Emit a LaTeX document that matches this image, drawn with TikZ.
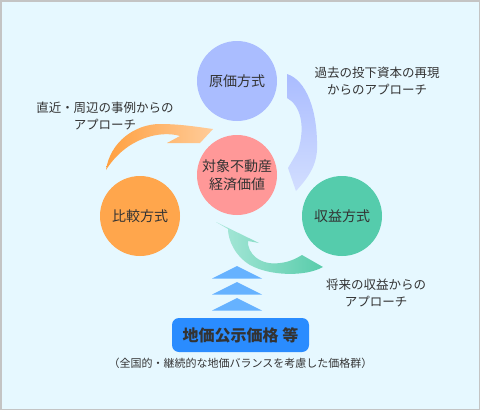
\documentclass[tikz,border=0pt]{standalone}
\usepackage{fontspec}
\setmainfont{Noto Sans CJK JP}
\usetikzlibrary{positioning}
\definecolor{bgblue}{HTML}{E6F8FF}
\definecolor{framegray}{HTML}{C4C4C4}
\definecolor{textgray}{HTML}{333333}
\definecolor{costblue}{HTML}{AABDFF}
\definecolor{valuered}{HTML}{FF9898}
\definecolor{salesorange}{HTML}{FFA64C}
\definecolor{incomegreen}{HTML}{55CCAC}
\definecolor{boxblue}{HTML}{2A8CFF}
\definecolor{chevblue}{HTML}{66B2FF}
\definecolor{orangedark}{HTML}{FFA040}
\definecolor{orangelight}{HTML}{FFCC9A}
\definecolor{arrowbluedark}{HTML}{AABCFF}
\definecolor{arrowbluelight}{HTML}{D2DEFF}
\definecolor{greenlight}{HTML}{AAE8DA}
\definecolor{greendark}{HTML}{58CCAA}

\begin{document}
\begin{tikzpicture}[x=1pt, y=-1pt,
    method/.style={circle, minimum size=80pt, inner sep=0pt, text=textgray,
      align=center, font=\fontsize{14}{18}\selectfont},
    note/.style={text=textgray, align=center, font=\fontsize{12.5}{17}\selectfont}]
    \useasboundingbox (0,0) rectangle (480,410);
    \fill[bgblue] (0,0) rectangle (480,410);
    \draw[framegray, line width=1.5pt] (0.75,0.75) rectangle (479.25,409.25);

    % sweep arrows
    \shade[left color=orangedark, right color=orangelight]
      (106,170) .. controls (110,142) and (135,124) .. (160,124)
      .. controls (180,124) and (198,127) .. (213,129)
      -- (200,143) -- (167,143) -- (180,136)
      .. controls (160,130) and (126,138) .. (106,170) -- cycle;
    \shade[top color=arrowbluedark, bottom color=arrowbluelight]
      (287,74) .. controls (306,80) and (318,110) .. (317,150)
      .. controls (316,168) and (306,180) .. (296,191)
      -- (288,168) -- (298,151)
      .. controls (306,125) and (300,105) .. (287,98) -- cycle;
    \shade[left color=greenlight, right color=greendark]
      (216,222) -- (259,243) -- (248,241)
      .. controls (247,253) and (260,266) .. (280,263)
      .. controls (290,262) and (297,258) .. (302,255)
      -- (323,267)
      .. controls (305,277) and (270,276) .. (250,265)
      .. controls (235,256) and (228,240) .. (228,229) -- cycle;

    \node[method, fill=costblue] (cost) at (237,81) {原価方式};
    \node[method, fill=valuered] (value) at (237,175) {対象不動産\\経済価値};
    \node[method, fill=salesorange] (sales) at (140,216) {比較方式};
    \node[method, fill=incomegreen] (income) at (342,216) {収益方式};

    \node[note] (costnote) at (377,81.5) {過去の投下資本の再現\\からのアプローチ};
    \node[note] (salesnote) at (105,115.5) {直近・周辺の事例からの\\アプローチ};
    \node[note] (incomenote) at (376,293) {将来の収益からの\\アプローチ};

    % chevrons
    \foreach \y in {266,282,298}
      \fill[chevblue] (212,\y+12.5) -- (237,\y) -- (262,\y+12.5) -- cycle;

    \node[fill=boxblue, rounded corners=7pt, minimum width=137pt, minimum height=34pt,
      text=textgray, font=\fontsize{16}{18}\selectfont\bfseries] (landprice) at (240.5,335) {地価公示価格 等};
    \node[text=textgray, font=\fontsize{11}{13}\selectfont, below=2pt of landprice] (landnote)
      {（全国的・継続的な地価バランスを考慮した価格群）};
  \end{tikzpicture}
\end{document}
